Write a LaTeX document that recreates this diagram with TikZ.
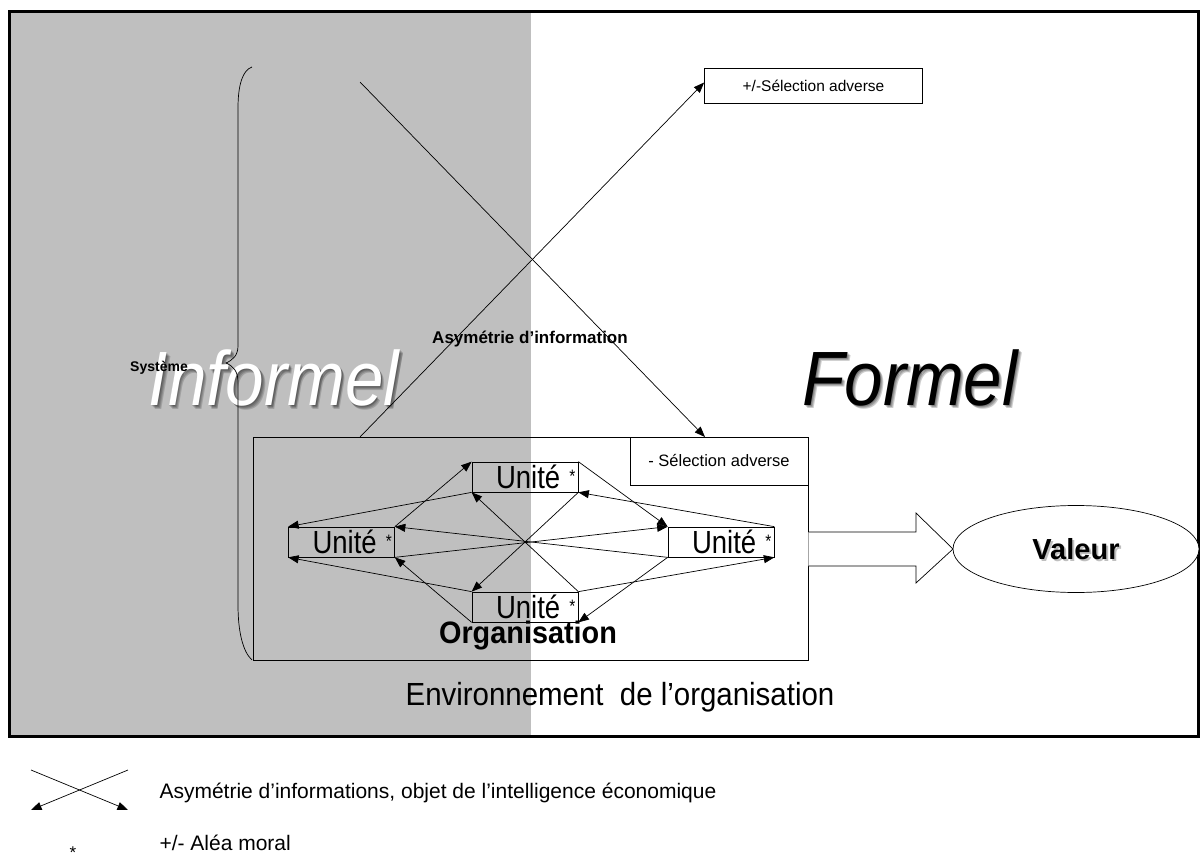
\documentclass[tikz,border=0pt]{standalone}
\usepackage{fontspec}
\setmainfont{Liberation Sans}
\usetikzlibrary{arrows.meta,shapes.geometric}
\definecolor{greybg}{RGB}{191,191,191}
\newcommand{\myfs}[1]{\fontsize{#1pt}{#1pt}\selectfont}
\newcommand{\unitast}{\raisebox{6pt}{\myfs{18}*}}
\newcommand{\cond}[2]{\scalebox{#1}[1]{#2}}
\begin{document}
\begin{tikzpicture}[x=1pt,y=-1pt,
  ln/.style={line width=0.7pt, draw=black},
  arr/.style={line width=0.7pt, -{Triangle[length=10.5pt,width=8pt]}},
  plainbox/.style={draw, line width=0.7pt, inner sep=0pt},
  unitbox/.style={draw, line width=0.7pt, minimum width=106pt, minimum height=30pt,
    inner xsep=2pt, inner ysep=0pt, text width=101pt, align=right, font=\myfs{32}},
  bigit/.style={font=\itshape\myfs{77}},
  shadowtxt/.style={text=black, opacity=0.16}]
\useasboundingbox (0,0) rectangle (1200,861);
% background
\fill[greybg] (10,12) rectangle (531,735);
\draw[line width=3pt] (9.5,11.5) rectangle (1198.5,736.5);

% big words
\foreach \d in {1,2,3,4}
  \node[bigit, shadowtxt] (infsh\d) at (274+\d*0.8,378+\d*0.9) {\cond{0.9}{Informel}};
\node[bigit, text=white] (informel) at (274,378) {\cond{0.9}{Informel}};
\foreach \d in {1,2,3}
  \node[bigit, shadowtxt, opacity=0.2] (forsh\d) at (910+\d,378+\d) {\cond{0.9}{Formel}};
\node[bigit] (formel) at (910,378) {\cond{0.9}{Formel}};

\node[font=\bfseries\myfs{14}] (sys) at (159,368) {Système};
\node[font=\bfseries\myfs{17}] (asym) at (530,339) {Asymétrie d’information};

% brace
\draw[ln] (252,67) .. controls (243,70) and (238,84) .. (238,108)
  -- (238,346) .. controls (238,355) and (233,360) .. (226,363)
  .. controls (233,366) and (238,371) .. (238,382)
  -- (238,605) .. controls (238,632) and (243,652) .. (252,660);

% boxes
\node[plainbox, fill=white, minimum width=218pt, minimum height=35pt, font=\myfs{15.5}] (sel1) at (813.5,85.5) {+/-Sélection adverse};
\node[plainbox, minimum width=555pt, minimum height=223pt] (org) at (530.5,548.5) {};
\node[plainbox, fill=white, minimum width=178pt, minimum height=48pt, font=\myfs{16.5}] (sel2) at (719,461) {- Sélection adverse};

% crossing arrows
\coordinate (aStart) at (360,437);
\coordinate (bStart) at (360,82);
\coordinate (bEnd) at (705,437);
\draw[arr] (aStart) -- ([yshift=3pt]sel1.west);
\draw[arr] (bStart) -- (bEnd);

% units
\node[unitbox] (uT) at (525,477) {\cond{0.86}{Unité \unitast}};
\node[unitbox] (uL) at (341.5,542) {\cond{0.86}{Unité \unitast}};
\node[unitbox] (uR) at (721,542) {\cond{0.86}{Unité \unitast}};
\node[unitbox] (uB) at (525,607) {\cond{0.86}{Unité \unitast}};

\draw[arr] (uT.south west) -- (uL.north west);
\draw[arr] (uL.north east) -- (uT.north west);
\draw[arr] (uT.north east) -- (uR.north west);
\draw[arr] (uR.north east) -- (uT.south east);
\draw[arr] (uT.south east) -- (uB.north west);
\draw[arr] (uB.north east) -- (uT.south west);
\draw[arr] (uR.south west) -- (uL.north east);
\draw[arr] (uL.south east) -- (uR.north west);
\draw[arr] (uB.north west) -- (uL.south west);
\draw[arr] (uB.south west) -- (uL.south east);
\draw[arr] (uB.north east) -- (uR.south east);
\draw[arr] (uR.south west) -- (uB.south east);

\node[font=\bfseries\myfs{31}] (orglbl) at (528,636) {\cond{0.93}{Organisation}};
\node[font=\myfs{32}] (env) at (620,697) {\cond{0.92}{Environnement\ \ de l’organisation}};

% block arrow and value
\draw[ln, fill=white] (org.east |- 0,532) -- (916,532) -- (916,513) -- (953,549)
  -- (916,583) -- (916,566) -- (org.east |- 0,566);
\node[draw, ellipse, fill=white, line width=0.7pt, minimum width=246pt, minimum height=87pt] (val) at (1076,549) {};
\node[font=\bfseries\myfs{29}, text=black, opacity=0.25] (valsh) at (1078,551) {Valeur};
\node[font=\bfseries\myfs{29}] (valt) at (1076,549) {Valeur};

% legend
\coordinate (x1a) at (31,770);
\coordinate (x1b) at (128,810);
\coordinate (x2a) at (128,770);
\coordinate (x2b) at (31,810);
\draw[arr] (x1a) -- (x1b);
\draw[arr] (x2a) -- (x2b);
\node[font=\myfs{21}, anchor=base west] (leg1) at (156,798) {Asymétrie d’informations, objet de l’intelligence économique};
\node[font=\myfs{17}, anchor=base, inner sep=0pt] (ast) at (73,858) {*};
\node[font=\myfs{21}, anchor=base west] (leg2) at (156,850) {+/- Aléa moral};
\end{tikzpicture}
\end{document}
